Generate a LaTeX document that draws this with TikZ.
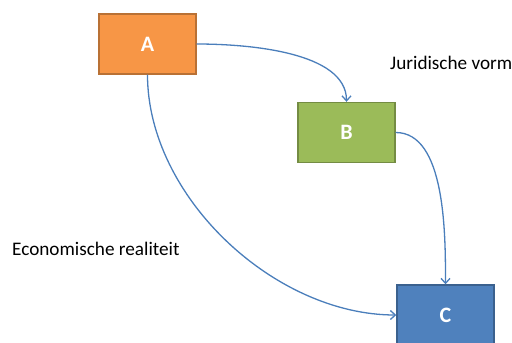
\documentclass[tikz,border=0pt]{standalone}
\usepackage{fontspec}
\setmainfont{Carlito}
\usetikzlibrary{positioning,arrows.meta}
\definecolor{boxorange}{HTML}{F79646}
\definecolor{boxgreen}{HTML}{9BBB59}
\definecolor{boxblue}{HTML}{4F81BD}
\definecolor{linkblue}{HTML}{4A7EBB}

\begin{document}
\begin{tikzpicture}[x=1pt,y=-1pt,
    box/.style={draw,line width=1.4pt,minimum width=97pt,minimum height=60pt,text=white,font=\fontsize{22}{24}\selectfont\bfseries},
    link/.style={draw=linkblue,line width=1.3pt,-{Straight Barb[length=5pt,width=9pt]}},
    lbl/.style={font=\fontsize{19.2}{21}\selectfont}]
        \useasboundingbox (0,0) rectangle (512,343);
        \node[box,fill=boxorange,draw=boxorange!75!black] (a) at (147.5,44) {A};
        \node[box,fill=boxgreen,draw=boxgreen!75!black] (b) at (346.5,132.5) {B};
        \node[box,fill=boxblue,draw=boxblue!75!black] (c) at (445.5,315) {C};
        \node[lbl,anchor=west,inner sep=0pt] (jur) at (390,63) {Juridische vorm};
        \node[lbl,anchor=west,inner sep=0pt] (eco) at (12,249) {Economische realiteit};
        \draw[link] (a.east) to[out=0,in=90,looseness=0.8] (b.north);
        \draw[link] (b.east) to[out=0,in=90,looseness=0.8] (c.north);
        \draw[link] (a.south) to[out=-90,in=180,looseness=0.9] (c.west);
    \end{tikzpicture}
\end{document}
